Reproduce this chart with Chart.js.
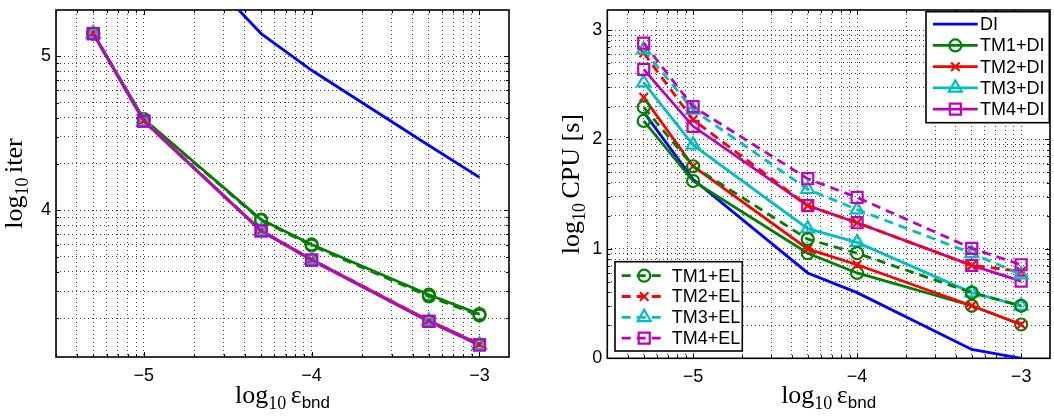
<!DOCTYPE html>
<html>
<head>
<meta charset="utf-8">
<script src="https://cdn.jsdelivr.net/npm/chart.js@4.4.1/dist/chart.umd.min.js"></script>
<style>
  html, body { margin: 0; padding: 0; background: #fff; overflow: hidden; }
  #wrap { position: relative; width: 1054px; height: 419px; overflow: hidden; background: #fff; }
  canvas { position: absolute; top: 0; }
  #iterChart { left: 0; }
  #cpuChart { left: 530px; }
</style>
</head>
<body>
<div id="wrap">
  <canvas id="iterChart" width="530" height="419"></canvas>
  <canvas id="cpuChart" width="530" height="419"></canvas>
</div>
<script>
// x values: log10 of the boundary tolerance eps_bnd
const logEps = [-5.301, -5, -4.301, -4, -3.301, -3];

const names = ['DI', 'TM1+DI', 'TM2+DI', 'TM3+DI', 'TM4+DI', 'TM1+EL', 'TM2+EL', 'TM3+EL', 'TM4+EL'];

// log10 of iteration count
const iterDI    = [6.45, 5.95, 5.147, 4.909, 4.421, 4.214];
const iterTM1DI = [5.147, 4.593, 3.941, 3.779, 3.453, 3.327];
const iterTM2DI = [5.15, 4.582, 3.87, 3.682, 3.285, 3.132];
const iterTM3DI = [5.147, 4.579, 3.867, 3.678, 3.28, 3.127];
const iterTM4DI = [5.147, 4.579, 3.867, 3.678, 3.28, 3.127];
const iterTM1EL = [5.147, 4.59, 3.935, 3.772, 3.442, 3.318];
const iterTM2EL = [5.15, 4.582, 3.87, 3.682, 3.285, 3.132];
const iterTM3EL = [5.147, 4.579, 3.867, 3.678, 3.28, 3.127];
const iterTM4EL = [5.147, 4.579, 3.867, 3.678, 3.28, 3.127];

// log10 of CPU time in seconds
const cpuDI    = [2.25, 1.635, 0.78, 0.6, 0.081, 0.0];
const cpuTM1DI = [2.169, 1.62, 0.96, 0.78, 0.48, 0.309];
const cpuTM2DI = [2.385, 1.755, 1.0, 0.855, 0.48, 0.309];
const cpuTM3DI = [2.52, 1.95, 1.185, 1.059, 0.6, 0.48];
const cpuTM4DI = [2.64, 2.12, 1.395, 1.239, 0.849, 0.705];
const cpuTM1EL = [2.295, 1.755, 1.089, 0.96, 0.6, 0.48];
const cpuTM2EL = [2.79, 2.18, 1.395, 1.239, 0.849, 0.795];
const cpuTM3EL = [2.82, 2.27, 1.545, 1.359, 0.96, 0.765];
const cpuTM4EL = [2.88, 2.3, 1.641, 1.47, 1.005, 0.855];

const xTicks = [-5, -4, -3];
const xTickLabels = ['\u22125', '\u22124', '\u22123'];
const iterTicks = [4, 5];
const iterTickLabels = ['4', '5'];
const cpuTicks = [0, 1, 2, 3];
const cpuTickLabels = ['0', '1', '2', '3'];

const colors = ['#0000ff', '#008000', '#ff0000', '#00bfbf', '#bf00bf', '#008000', '#ff0000', '#00bfbf', '#bf00bf'];
const markers = [null, 'circle', 'crossRot', 'triangle', 'rect', 'circle', 'crossRot', 'triangle', 'rect'];
const markerRadius = { circle: 6, crossRot: 6, triangle: 7.5, rect: 7.8 };
const dashed = [false, false, false, false, false, true, true, true, true];
const DASH = [9, 6];

const SANS = '"Liberation Sans", Arial, Helvetica, sans-serif';
const SERIF = '"Liberation Serif", "Times New Roman", serif';

function makeDatasets(series) {
  return series.map((vals, i) => ({
    label: names[i],
    data: vals.map((v, j) => ({ x: logEps[j], y: v })),
    borderColor: colors[i],
    backgroundColor: 'rgba(0,0,0,0)',
    borderWidth: 2.8,
    borderDash: dashed[i] ? DASH : [],
    pointStyle: markers[i] || 'circle',
    pointRadius: markers[i] ? markerRadius[markers[i]] : 0,
    pointHoverRadius: markers[i] ? markerRadius[markers[i]] : 0,
    pointBorderWidth: 2.2,
    pointBorderColor: colors[i],
    pointBackgroundColor: 'rgba(0,0,0,0)',
    tension: 0,
    order: -i   // later series on top
  }));
}

// log-decade tick positions (1..9 x 10^n) expressed in log10 units
function decadeTicks(min, max) {
  const out = [];
  for (let n = Math.floor(min); n <= Math.ceil(max); n++) {
    for (let k = 1; k <= 9; k++) {
      const v = k === 1 ? n : n + Math.log10(k);
      if (v >= min - 1e-9 && v <= max + 1e-9) out.push({ value: v, major: k === 1 });
    }
  }
  return out;
}

function tickLabel(v, vals, labels) {
  const i = vals.findIndex(t => Math.abs(t - v) < 1e-9);
  return i < 0 ? '' : labels[i];
}

function axis(min, max, vals, labels, isX, size, pad) {
  return {
    type: 'linear',
    min: min,
    max: max,
    afterBuildTicks: s => { s.ticks = decadeTicks(min, max); },
    afterFit: s => {
      if (isX) { s.height = size; s.paddingLeft = 0; s.paddingRight = 0; }
      else { s.width = size; s.paddingTop = 0; s.paddingBottom = 0; }
    },
    ticks: {
      autoSkip: false,
      maxRotation: 0,
      padding: pad,
      color: '#000',
      font: { family: SANS, size: 18 },
      callback: v => tickLabel(v, vals, labels)
    },
    grid: { color: '#404040', lineWidth: 1, drawTicks: false },
    border: { display: false, dash: [1, 3] }
  };
}

// axes box with inward tick marks, MATLAB style
const framePlugin = {
  id: 'frame',
  beforeDatasetsDraw(chart) {
    const { ctx, chartArea: a, scales } = chart;
    ctx.save();
    ctx.strokeStyle = '#000';
    ctx.lineWidth = 1;
    ctx.beginPath();
    scales.x.ticks.forEach(t => {
      const px = Math.round(scales.x.getPixelForValue(t.value)) + 0.5;
      const len = t.major ? 5 : 3;
      ctx.moveTo(px, a.bottom); ctx.lineTo(px, a.bottom - len);
      ctx.moveTo(px, a.top); ctx.lineTo(px, a.top + len);
    });
    scales.y.ticks.forEach(t => {
      const py = Math.round(scales.y.getPixelForValue(t.value)) + 0.5;
      const len = t.major ? 5 : 3;
      ctx.moveTo(a.left, py); ctx.lineTo(a.left + len, py);
      ctx.moveTo(a.right, py); ctx.lineTo(a.right - len, py);
    });
    ctx.stroke();
    ctx.lineWidth = 1.6;
    ctx.strokeRect(a.left, a.top, a.right - a.left, a.bottom - a.top);
    ctx.restore();
  }
};

function drawRich(ctx, parts, x, y) {
  let w = 0;
  parts.forEach(p => { ctx.font = p.font; w += ctx.measureText(p.text).width; });
  let cx = x - w / 2;
  ctx.textAlign = 'left';
  ctx.textBaseline = 'alphabetic';
  ctx.fillStyle = '#000';
  parts.forEach(p => {
    ctx.font = p.font;
    ctx.fillText(p.text, cx, y + (p.dy || 0));
    cx += ctx.measureText(p.text).width;
  });
}

// axis titles with subscripts
const titlePlugin = {
  id: 'richTitles',
  afterDraw(chart, args, opts) {
    const { ctx, chartArea: a } = chart;
    ctx.save();
    drawRich(ctx, opts.x, (a.left + a.right) / 2, opts.xBaseline);
    ctx.translate(opts.yBaseline, (a.top + a.bottom) / 2);
    ctx.rotate(-Math.PI / 2);
    drawRich(ctx, opts.y, 0, 0);
    ctx.restore();
  }
};

// boxed legends placed inside the plot area
const legendPlugin = {
  id: 'boxLegends',
  afterDraw(chart, args, opts) {
    const ctx = chart.ctx;
    (opts.boxes || []).forEach(b => {
      ctx.save();
      ctx.fillStyle = '#fff';
      ctx.fillRect(b.left, b.top, b.width, b.height);
      ctx.strokeStyle = '#000';
      ctx.lineWidth = 1.6;
      ctx.strokeRect(b.left, b.top, b.width, b.height);
      b.items.forEach((di, r) => {
        const ds = chart.data.datasets[di];
        const y = b.firstRow + r * b.rowStep;
        ctx.strokeStyle = ds.borderColor;
        ctx.lineWidth = ds.borderWidth;
        ctx.setLineDash(ds.borderDash || []);
        ctx.beginPath();
        ctx.moveTo(b.lineFrom, y);
        ctx.lineTo(b.lineTo, y);
        ctx.stroke();
        ctx.setLineDash([]);
        if (ds.pointRadius > 0) {
          ctx.fillStyle = 'rgba(0,0,0,0)';
          ctx.lineWidth = ds.pointBorderWidth;
          Chart.helpers.drawPoint(ctx, {
            pointStyle: ds.pointStyle, radius: ds.pointRadius,
            borderWidth: ds.pointBorderWidth, rotation: 0
          }, (b.lineFrom + b.lineTo) / 2, y);
        }
        ctx.fillStyle = '#000';
        ctx.font = `18px ${SANS}`;
        ctx.textAlign = 'left';
        ctx.textBaseline = 'middle';
        ctx.fillText(ds.label, b.textX, y + 1);
      });
      ctx.restore();
    });
  }
};

const big = `26px ${SERIF}`;
const sub = `18px ${SERIF}`;
const xTitle = [
  { text: 'log', font: big }, { text: '10', font: sub, dy: 6 }, { text: ' ', font: sub },
  { text: '\u03b5', font: big }, { text: 'bnd', font: `17px ${SANS}`, dy: 5 }
];

new Chart(document.getElementById('iterChart'), {
  type: 'line',
  data: {
    datasets: makeDatasets([iterDI, iterTM1DI, iterTM2DI, iterTM3DI, iterTM4DI,
                            iterTM1EL, iterTM2EL, iterTM3EL, iterTM4EL])
  },
  options: {
    responsive: false,
    animation: false,
    layout: { padding: { left: 0, right: 21, top: 1, bottom: 0 } },
    scales: {
      x: axis(-5.523, -2.824, xTicks, xTickLabels, true, 62, 8),
      y: axis(3.049, 5.3, iterTicks, iterTickLabels, false, 56, 5)
    },
    plugins: {
      legend: { display: false },
      tooltip: { enabled: false },
      richTitles: {
        x: xTitle, xBaseline: 403,
        y: [{ text: 'log', font: big }, { text: '10', font: sub, dy: 6 }, { text: ' ', font: sub },
            { text: 'iter', font: big }],
        yBaseline: 22
      }
    }
  },
  plugins: [framePlugin, titlePlugin]
});

new Chart(document.getElementById('cpuChart'), {
  type: 'line',
  data: {
    datasets: makeDatasets([cpuDI, cpuTM1DI, cpuTM2DI, cpuTM3DI, cpuTM4DI,
                            cpuTM1EL, cpuTM2EL, cpuTM3EL, cpuTM4EL])
  },
  options: {
    responsive: false,
    animation: false,
    layout: { padding: { left: 0, right: 3.2, top: 4.7, bottom: 0 } },
    scales: {
      x: axis(-5.523, -2.824, xTicks, xTickLabels, true, 60.7, 8),
      y: axis(0, 3.183, cpuTicks, cpuTickLabels, false, 77.3, 5)
    },
    plugins: {
      legend: { display: false },
      tooltip: { enabled: false },
      richTitles: {
        x: xTitle, xBaseline: 403,
        y: [{ text: 'log', font: big }, { text: '10', font: sub, dy: 6 }, { text: ' ', font: sub },
            { text: 'CPU [s]', font: big }],
        yBaseline: 49
      },
      boxLegends: {
        boxes: [
          { items: [0, 1, 2, 3, 4], left: 396, top: 11.7, width: 123.3, height: 111,
            firstRow: 24.2, rowStep: 21.25, lineFrom: 403, lineTo: 447.7, textX: 450 },
          { items: [5, 6, 7, 8], left: 85, top: 261.7, width: 127.3, height: 89.3,
            firstRow: 275.7, rowStep: 20.8, lineFrom: 91.7, lineTo: 136.7, textX: 141.7 }
        ]
      }
    }
  },
  plugins: [framePlugin, titlePlugin, legendPlugin]
});
</script>
</body>
</html>
